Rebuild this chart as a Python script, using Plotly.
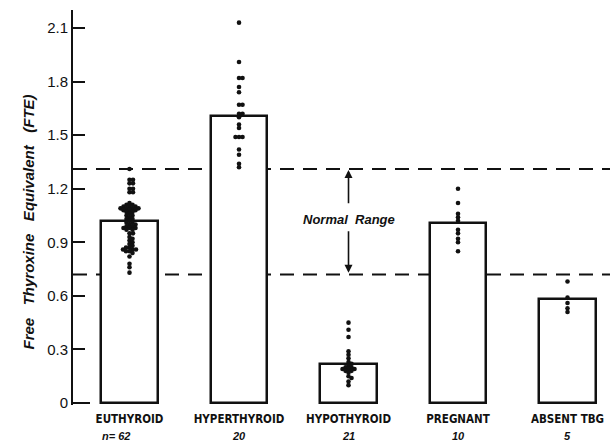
import plotly.graph_objects as go

# Patient groups and group sizes
groups = ["EUTHYROID", "HYPERTHYROID", "HYPOTHYROID", "PREGNANT", "ABSENT TBG"]
group_n = ["n= 62", "20", "21", "10", "5"]

# Group means (bar heights), FTE
group_mean = [1.02, 1.61, 0.22, 1.01, 0.58]

# Individual FTE values per group
euthyroid = [1.31, 1.25, 1.25, 1.23, 1.23, 1.20, 1.20, 1.18, 1.18,
             1.12, 1.11, 1.11, 1.10, 1.10, 1.10, 1.09, 1.09, 1.09, 1.09,
             1.08, 1.08, 1.08, 1.07, 1.07, 1.06, 1.05, 1.05, 1.04,
             1.03, 1.03, 1.02, 1.01, 1.01, 1.00, 1.00, 0.99, 0.99,
             0.98, 0.98, 0.98, 0.97, 0.97, 0.95, 0.95, 0.93, 0.92,
             0.91, 0.90, 0.89, 0.88, 0.87, 0.87, 0.86, 0.86, 0.86,
             0.85, 0.85, 0.84, 0.82, 0.78, 0.76, 0.73]
hyperthyroid = [2.13, 1.91, 1.82, 1.82, 1.77, 1.74, 1.67, 1.67, 1.62, 1.62,
                1.60, 1.56, 1.54, 1.49, 1.49, 1.49, 1.42, 1.39, 1.34, 1.32]
hypothyroid = [0.45, 0.41, 0.37, 0.29, 0.27, 0.25, 0.23, 0.22, 0.21, 0.20,
               0.20, 0.19, 0.19, 0.19, 0.18, 0.18, 0.17, 0.15, 0.14, 0.12, 0.10]
pregnant = [1.20, 1.12, 1.06, 1.04, 1.02, 0.97, 0.95, 0.92, 0.90, 0.85]
absent_tbg = [0.68, 0.59, 0.56, 0.53, 0.51]
group_values = [euthyroid, hyperthyroid, hypothyroid, pregnant, absent_tbg]

# Normal range limits
normal_low, normal_high = 0.72, 1.31

y_ticks = [0, 0.3, 0.6, 0.9, 1.2, 1.5, 1.8, 2.1]
y_ticktext = ["0", "0.3", "0.6", "0.9", "1.2", "1.5", "1.8", "2.1"]

W, H = 610, 442
M_L, M_R, M_T, M_B = 73, 0, 10, 37
X_RANGE = [-0.516, 4.388]
Y_RANGE = [-0.0112, 2.2008]
px_per_x = (W - M_L - M_R) / (X_RANGE[1] - X_RANGE[0])
px_per_y = (H - M_T - M_B) / (Y_RANGE[1] - Y_RANGE[0])
INK = "#111111"
DOT = 4.6


def swarm_offsets(values, diam=3.1):
    """Dodge overlapping dots sideways (pixel space), returns x offsets in data units."""
    placed = []
    offs = [0.0] * len(values)
    order = sorted(range(len(values)), key=lambda i: -values[i])
    for i in order:
        yp = values[i] * px_per_y
        cand = [0.0]
        k = 1
        while k < 80:
            cand += [k * 0.5, -k * 0.5]
            k += 1
        for c in cand:
            if all((c - px) ** 2 + (yp - py) ** 2 >= diam ** 2 for px, py in placed):
                placed.append((c, yp))
                offs[i] = c / px_per_x
                break
    return offs


fig = go.Figure()

# Bars for the group means
fig.add_trace(go.Bar(
    x=list(range(len(groups))), y=group_mean, width=0.52,
    marker=dict(color="white", line=dict(color=INK, width=2.5)),
    showlegend=False, hoverinfo="skip",
))

# Individual values
for gi, vals in enumerate(group_values):
    offs = swarm_offsets(vals)
    fig.add_trace(go.Scatter(
        x=[gi + o for o in offs], y=vals, mode="markers",
        marker=dict(size=DOT, color=INK, line=dict(width=0)),
        showlegend=False, hoverinfo="skip", cliponaxis=False,
    ))

shapes = []
for lvl in (normal_low, normal_high):
    shapes.append(dict(type="line", xref="paper", yref="y", x0=0, x1=1, y0=lvl, y1=lvl,
                       line=dict(color=INK, width=2, dash="14px,9px"), layer="below"))
# short base segment at zero
shapes.append(dict(type="line", xref="paper", yref="y", x0=0, x1=(90 - M_L) / (W - M_L - M_R),
                   y0=0, y1=0, line=dict(color=INK, width=2)))

annotations = []
# Normal range label with arrows
annotations.append(dict(x=2, y=1.025, xref="x", yref="y", text="<b><i>Normal  Range</i></b>",
                        showarrow=False, font=dict(family="Liberation Sans, Arial", size=13, color=INK)))
annotations.append(dict(x=2, y=normal_high - 0.005, ax=2, ay=1.11, xref="x", yref="y", axref="x", ayref="y",
                        text="", showarrow=True, arrowhead=2, arrowsize=1, arrowwidth=1.6, arrowcolor=INK))
annotations.append(dict(x=2, y=normal_low + 0.01, ax=2, ay=0.97, xref="x", yref="y", axref="x", ayref="y",
                        text="", showarrow=True, arrowhead=2, arrowsize=1, arrowwidth=1.6, arrowcolor=INK))
# Group sizes under the category labels
for gi, n in enumerate(group_n):
    annotations.append(dict(x=gi + (0.02 if gi == 0 else 0), y=0, xref="x", yref="paper",
                            xanchor="right" if gi == 0 else "center", yanchor="top", yshift=-23,
                            text="<b><i>%s</i></b>" % n, showarrow=False,
                            font=dict(family="Liberation Sans, Arial", size=11, color=INK)))
# Y axis title
annotations.append(dict(x=(17 - M_L) / (W - M_L - M_R), y=(H - M_B - 222) / (H - M_T - M_B),
                        xref="paper", yref="paper", textangle=-90, showarrow=False,
                        text="<b><i>Free   Thyroxine   Equivalent   (FTE)</i></b>",
                        font=dict(family="Liberation Sans, Arial", size=15, color=INK)))

fig.update_layout(
    width=W, height=H,
    margin=dict(l=M_L, r=M_R, t=M_T, b=M_B, pad=0),
    paper_bgcolor="white", plot_bgcolor="white",
    shapes=shapes, annotations=annotations, bargap=0,
    xaxis=dict(range=X_RANGE, tickvals=list(range(len(groups))), ticktext=groups,
               showgrid=False, zeroline=False, showline=False, ticks="",
               ticklabelstandoff=5,
               tickfont=dict(family="Liberation Sans Narrow, DejaVu Sans Condensed, Arial", size=11.5,
                             color=INK, weight="bold")),
    yaxis=dict(range=Y_RANGE, tickvals=y_ticks, ticktext=y_ticktext,
               showgrid=False, zeroline=False, showline=True, linecolor=INK, linewidth=2,
               ticks="inside", ticklen=12, tickwidth=2, tickcolor=INK,
               tickfont=dict(family="Liberation Sans, Arial", size=15, color=INK)),
)

fig.write_html("out.html")
